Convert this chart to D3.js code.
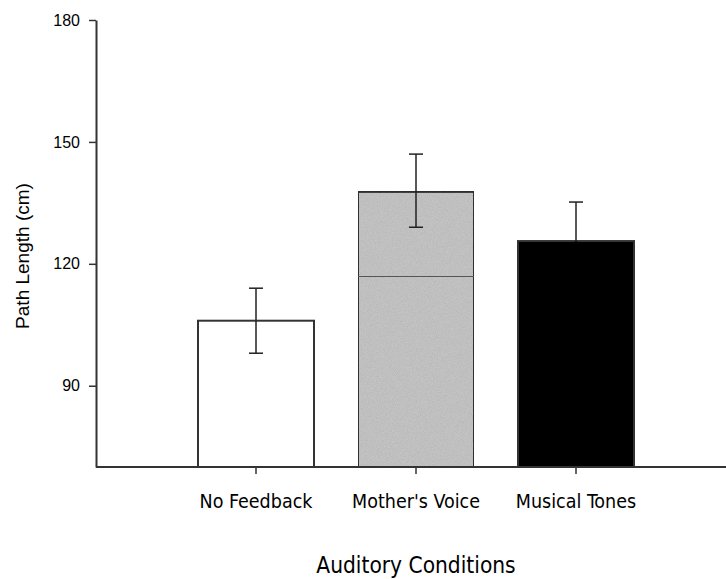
<!DOCTYPE html>
<html>
<head>
<meta charset="utf-8">
<script src="https://cdn.jsdelivr.net/npm/d3@7"></script>
<style>
  body { margin: 0; background: #fff; }
</style>
</head>
<body>
<div id="chart"></div>
<script>
var categories = ["No Feedback", "Mother's Voice", "Musical Tones"];
var means = [106, 137.7, 125.6];
var errLow = [98, 129, 116];
var errHigh = [114, 147, 135.2];
var barColors = ["#ffffff", "#c4c4c4", "#000000"];
var yTicks = [90, 120, 150, 180];
var innerLine = 117.1; // faint line seen inside the grey bar

var width = 726, height = 579;
var margin = {top: 20, left: 96, bottom: 112};

var svg = d3.select("#chart").append("svg")
  .attr("width", width)
  .attr("height", height);

// grainy texture for the grey bar
var defs = svg.append("defs");
var f = defs.append("filter").attr("id", "grain")
  .attr("x", 0).attr("y", 0).attr("width", 1).attr("height", 1);
f.append("feTurbulence").attr("type", "fractalNoise")
  .attr("baseFrequency", 1.2).attr("numOctaves", 1).attr("seed", 3).attr("result", "noise");
f.append("feColorMatrix").attr("in", "noise").attr("type", "matrix")
  .attr("values", "0 0 0 0 0  0 0 0 0 0  0 0 0 0 0  0 0 0 0.3 -0.1")
  .attr("result", "dots");
f.append("feComposite").attr("in", "dots").attr("in2", "SourceGraphic")
  .attr("operator", "in").attr("result", "clipped");
var fm = f.append("feMerge");
fm.append("feMergeNode").attr("in", "SourceGraphic");
fm.append("feMergeNode").attr("in", "clipped");

var y = d3.scaleLinear()
  .domain([70, 180])
  .range([height - margin.bottom, margin.top]);

var x = d3.scaleBand()
  .domain(categories)
  .range([176, 656])
  .paddingInner(0.275)
  .paddingOuter(0.1375);

var data = categories.map(function(c, i) {
  return {cat: c, mean: means[i], lo: errLow[i], hi: errHigh[i], color: barColors[i]};
});

// bars
svg.selectAll(".bar")
  .data(data)
  .enter().append("rect")
  .attr("class", "bar")
  .attr("x", function(d) { return x(d.cat); })
  .attr("y", function(d) { return y(d.mean); })
  .attr("width", x.bandwidth())
  .attr("height", function(d) { return y(70) - y(d.mean); })
  .attr("fill", function(d) { return d.color; })
  .attr("filter", function(d, i) { return i == 1 ? "url(#grain)" : null; })
  .attr("stroke", "#333")
  .attr("stroke-width", 2);

svg.append("line")
  .attr("x1", x(categories[1]))
  .attr("x2", x(categories[1]) + x.bandwidth())
  .attr("y1", Math.round(y(innerLine)) + 0.5)
  .attr("y2", Math.round(y(innerLine)) + 0.5)
  .attr("stroke", "#555")
  .attr("stroke-width", 1);

// error bars (the part inside the black bar disappears into it)
function errColor(d) { return d.color == "#000000" ? "#000" : "#222"; }

var eb = svg.selectAll(".err")
  .data(data)
  .enter().append("g")
  .attr("class", "err")
  .attr("stroke-width", 1.5);

eb.append("line")
  .attr("stroke", "#222")
  .attr("x1", function(d) { return x(d.cat) + x.bandwidth() / 2; })
  .attr("x2", function(d) { return x(d.cat) + x.bandwidth() / 2; })
  .attr("y1", function(d) { return y(d.mean); })
  .attr("y2", function(d) { return y(d.hi); });

eb.append("line")
  .attr("stroke", errColor)
  .attr("x1", function(d) { return x(d.cat) + x.bandwidth() / 2; })
  .attr("x2", function(d) { return x(d.cat) + x.bandwidth() / 2; })
  .attr("y1", function(d) { return y(d.lo); })
  .attr("y2", function(d) { return y(d.mean); });

eb.append("line")
  .attr("stroke", "#222")
  .attr("x1", function(d) { return x(d.cat) + x.bandwidth() / 2 - 7; })
  .attr("x2", function(d) { return x(d.cat) + x.bandwidth() / 2 + 7; })
  .attr("y1", function(d) { return y(d.hi); })
  .attr("y2", function(d) { return y(d.hi); });

eb.append("line")
  .attr("stroke", errColor)
  .attr("x1", function(d) { return x(d.cat) + x.bandwidth() / 2 - 7; })
  .attr("x2", function(d) { return x(d.cat) + x.bandwidth() / 2 + 7; })
  .attr("y1", function(d) { return y(d.lo); })
  .attr("y2", function(d) { return y(d.lo); });

// y axis
var yAxis = svg.append("g")
  .attr("transform", "translate(" + margin.left + ",0)")
  .call(d3.axisLeft(y).tickValues(yTicks).tickSize(7).tickPadding(9).tickSizeOuter(0));
yAxis.select(".domain").attr("stroke", "#333").attr("stroke-width", 2);
yAxis.selectAll(".tick line").attr("stroke", "#333").attr("stroke-width", 1.5);
yAxis.selectAll(".tick text")
  .style("font-family", "'Liberation Sans', Arial, sans-serif")
  .style("font-size", "16px")
  .attr("fill", "#000");

// x axis
var xAxis = svg.append("g")
  .attr("transform", "translate(0," + (height - margin.bottom) + ")")
  .call(d3.axisBottom(x).tickSize(7).tickPadding(20).tickSizeOuter(0));
xAxis.select(".domain").attr("d", "M" + margin.left + ",0H" + width)
  .attr("stroke", "#333").attr("stroke-width", 2);
xAxis.selectAll(".tick line").attr("stroke", "#333").attr("stroke-width", 1.5);
xAxis.selectAll(".tick text")
  .style("font-family", "'DejaVu Sans Condensed', 'DejaVu Sans', sans-serif")
  .style("font-stretch", "condensed")
  .style("font-size", "19.5px")
  .attr("fill", "#000");

// axis titles
svg.append("text")
  .attr("x", 416)
  .attr("y", 573)
  .attr("text-anchor", "middle")
  .style("font-family", "'DejaVu Sans Condensed', 'DejaVu Sans', sans-serif")
  .style("font-stretch", "condensed")
  .style("font-size", "22.5px")
  .text("Auditory Conditions");

svg.append("text")
  .attr("transform", "translate(29,256) rotate(-90)")
  .attr("text-anchor", "middle")
  .style("font-family", "'Liberation Sans', Arial, sans-serif")
  .style("font-size", "19px")
  .text("Path Length (cm)");
</script>
</body>
</html>
